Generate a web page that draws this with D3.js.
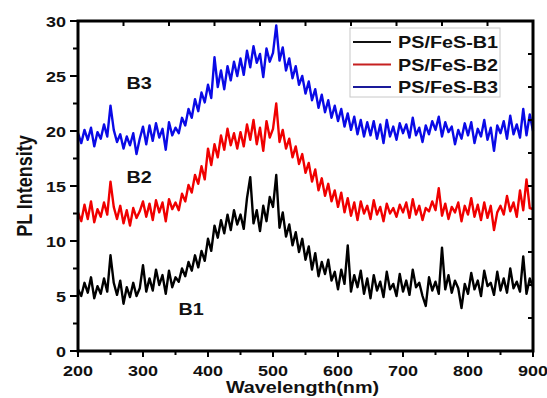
<!DOCTYPE html>
<html>
<head>
<meta charset="utf-8">
<script src="https://cdn.jsdelivr.net/npm/d3@7"></script>
<style>
  body { margin: 0; background: #fff; }
  svg text { font-family: "Liberation Sans", Arial, sans-serif; font-weight: bold; fill: #111; }
</style>
</head>
<body>
<svg id="chart" width="547" height="398"></svg>
<script>
// PL spectra, one value every 5 nm from 200 to 900 nm
const wavelengths = d3.range(200, 901, 5);

const b1 = [
  5.6, 5.0, 6.2, 5.3, 6.7, 4.8, 5.9, 5.2, 6.6, 5.4,
  8.7, 6.2, 5.1, 6.4, 4.3, 5.8, 4.9, 6.2, 5.0, 5.7,
  7.8, 5.4, 6.6, 5.5, 7.4, 6.0, 6.9, 5.2, 7.3, 5.8,
  6.7, 6.3, 7.5, 6.8, 8.1, 7.3, 8.7, 7.6, 9.1, 8.2,
  10.2, 9.1, 11.4, 10.3, 11.9, 10.7, 12.4, 11.0, 12.8, 11.5,
  12.4, 11.1, 13.9, 15.8, 11.6, 12.8, 10.9, 13.2, 11.8, 14.0,
  13.1, 16.0, 11.2, 12.6, 10.4, 11.5, 9.6, 10.8, 9.0, 10.2,
  8.3, 9.5, 7.4, 8.9, 6.8, 8.1, 7.0, 8.3, 6.4, 7.2,
  5.6, 7.4, 6.1, 9.6, 5.4, 6.9, 5.8, 7.3, 5.2, 6.6,
  4.8, 6.9, 5.5, 6.3, 4.9, 7.2, 5.6, 6.1, 5.0, 7.0,
  5.4, 6.4, 5.1, 7.4, 5.8, 6.2, 5.0, 4.1, 6.7, 5.5,
  6.3, 5.2, 9.4, 5.6, 6.9, 5.3, 6.4, 5.7, 3.9, 6.1,
  5.2, 7.1, 5.6, 6.4, 5.0, 7.3, 5.9, 6.2, 5.1, 7.2,
  5.5, 6.6, 5.3, 7.5, 5.7, 6.3, 5.4, 8.6, 5.2, 6.6,
  5.8
];

const b2 = [
  12.6, 11.8, 13.3, 12.0, 13.6, 11.7, 12.9, 12.2, 13.5, 12.4,
  15.4, 13.1, 12.0, 13.2, 11.6, 12.8, 11.4, 13.0, 12.1, 12.7,
  13.6, 12.2, 13.4, 11.9, 13.7, 12.6, 13.5, 11.8, 13.8, 12.9,
  13.5, 12.8, 14.3, 13.6, 15.1, 14.4, 16.0, 15.2, 16.8, 15.6,
  18.4, 16.9, 18.8, 17.6, 19.6, 18.3, 20.2, 18.7, 19.8, 18.4,
  19.9, 18.6, 20.6, 19.2, 21.0, 18.8, 20.3, 18.2, 20.9, 19.4,
  20.2, 22.5, 19.0, 20.1, 18.4, 19.3, 17.6, 18.6, 17.0, 17.9,
  16.2, 17.1, 15.4, 16.5, 14.6, 15.7, 14.1, 15.2, 13.6, 14.6,
  13.1, 14.4, 12.6, 13.9, 12.3, 13.5, 11.9, 13.6, 12.5, 13.2,
  12.0, 13.7, 12.4, 13.1, 11.8, 13.4, 12.5, 13.0, 12.2, 13.3,
  12.6, 13.5, 12.1, 13.8, 12.4, 13.2, 11.9, 13.0, 12.7, 13.6,
  12.8, 14.8, 12.3, 13.4, 12.0, 13.1, 12.6, 13.5, 11.8, 13.2,
  12.4, 13.9, 12.2, 13.3, 11.9, 13.5, 12.1, 13.2, 11.0, 12.6,
  13.2, 12.4, 14.1, 12.7, 13.5, 12.2, 14.6, 12.8, 15.6, 13.0,
  12.9
];

const b3 = [
  19.8, 18.9, 20.1, 19.2, 20.3, 18.6, 19.9, 19.3, 20.6, 19.5,
  22.3, 20.1, 19.0, 19.7, 18.4, 19.5, 18.7, 19.8, 17.9, 19.3,
  20.4, 18.8, 20.5, 19.1, 20.7, 19.4, 20.2, 18.3, 20.8, 19.6,
  20.3, 19.8, 21.2, 20.5, 22.0, 21.2, 22.9, 21.8, 23.5, 22.6,
  24.2, 23.0, 26.7, 24.0, 25.5, 23.8, 25.9, 24.6, 26.3, 25.0,
  26.6, 25.1, 27.3, 25.8, 27.7, 26.2, 27.0, 24.9, 27.5, 26.3,
  27.1, 29.6, 26.4, 27.6, 25.5, 26.6, 24.8, 25.9, 24.2, 25.0,
  23.4, 24.5, 22.8, 23.8, 22.1, 23.3, 21.7, 22.8, 21.2, 22.3,
  20.9, 22.0, 20.4, 21.6, 20.1, 21.3, 19.7, 21.0, 19.5, 20.8,
  19.6, 20.9, 19.3, 20.6, 18.9, 21.0, 19.5, 20.4, 19.2, 20.7,
  19.8, 20.6, 19.4, 21.2, 19.6, 20.3, 19.0, 20.5, 19.7, 20.9,
  20.1, 21.3, 19.5, 20.8, 19.9, 20.4, 18.8, 20.1, 19.3, 20.7,
  19.6, 20.8, 18.9, 20.2, 19.5, 21.0, 19.2, 20.3, 18.2, 20.5,
  19.8, 20.9, 19.3, 21.4, 19.7, 20.6, 19.4, 22.0, 19.6, 21.5,
  20.0
];

const seriesNames = ["PS/FeS-B1", "PS/FeS-B2", "PS/FeS-B3"];
const seriesColors = ["#000000", "#f00000", "#0a0ae6"];
const legendColors = ["#111111", "#c62020", "#1a1a9a"];
const curveLabels = [
  { text: "B1", x: 374, y: 3.3 },
  { text: "B2", x: 294, y: 15.3 },
  { text: "B3", x: 294, y: 23.8 }
];
const xTicks = [200, 300, 400, 500, 600, 700, 800, 900];
const yTicks = [0, 5, 10, 15, 20, 25, 30];

const svg = d3.select("#chart");
const margin = { top: 21, right: 14, bottom: 47, left: 78 };
const width = 547 - margin.left - margin.right;
const height = 398 - margin.top - margin.bottom;
const sx = 1.2; // the figure is stretched sideways

const g = svg.append("g").attr("transform", `translate(${margin.left},${margin.top})`);

const x = d3.scaleLinear().domain([200, 900]).range([0, width]);
const y = d3.scaleLinear().domain([0, 30]).range([height, 0]);

// curves
const data = [b1, b2, b3];
const line = d3.line().x((d, i) => x(wavelengths[i])).y(d => y(d));
g.selectAll(".curve")
  .data(data)
  .enter()
  .append("path")
    .attr("class", "curve")
    .attr("d", d => line(d))
    .attr("fill", "none")
    .attr("stroke", (d, i) => seriesColors[i])
    .attr("stroke-width", 2.4)
    .attr("stroke-linejoin", "round");

// ticks, hand made to mimic Origin style
const tickG = g.append("g").attr("stroke", "#000").attr("stroke-width", 2);
d3.range(200, 901, 50).forEach(v => {
  const len = v % 100 === 0 ? 6 : 4;
  tickG.append("line").attr("x1", x(v)).attr("x2", x(v)).attr("y1", height).attr("y2", height + len);
});
d3.range(0, 30.1, 2.5).forEach(v => {
  const len = v % 5 === 0 ? 8 : 5;
  tickG.append("line").attr("x1", -len).attr("x2", 0).attr("y1", y(v)).attr("y2", y(v));
});
d3.range(200, 901, 70).forEach(v => {
  tickG.append("line").attr("x1", x(v)).attr("x2", x(v)).attr("y1", 0).attr("y2", 5);
});
d3.range(0, 31, 3).forEach(v => {
  tickG.append("line").attr("x1", width - 5).attr("x2", width).attr("y1", y(v)).attr("y2", y(v));
});

// frame
g.append("rect")
  .attr("width", width).attr("height", height)
  .attr("fill", "none").attr("stroke", "#000").attr("stroke-width", 3);

// tick labels
g.selectAll(".xlab")
  .data(xTicks)
  .enter()
  .append("text")
    .attr("class", "xlab")
    .attr("transform", d => `translate(${x(d)},${height + 25}) scale(${sx},1)`)
    .attr("text-anchor", "middle")
    .attr("font-size", 15)
    .text(d => d);

g.selectAll(".ylab")
  .data(yTicks)
  .enter()
  .append("text")
    .attr("class", "ylab")
    .attr("transform", d => `translate(-12,${y(d) + 5.5}) scale(${sx},1)`)
    .attr("text-anchor", "end")
    .attr("font-size", 15)
    .text(d => d);

// axis titles
svg.append("text")
  .attr("transform", `translate(${margin.left + x(550) - 3},393) scale(${sx},1)`)
  .attr("text-anchor", "middle")
  .attr("font-size", 16.5)
  .text("Wavelength(nm)");

svg.append("text")
  .attr("transform", `translate(32,${margin.top + height / 2}) scale(${sx},1) rotate(-90)`)
  .attr("text-anchor", "middle")
  .attr("font-size", 18)
  .text("PL Intensity");

// curve labels
g.selectAll(".blab")
  .data(curveLabels)
  .enter()
  .append("text")
    .attr("class", "blab")
    .attr("transform", d => `translate(${x(d.x)},${y(d.y)}) scale(${sx},1)`)
    .attr("text-anchor", "middle")
    .attr("font-size", 16.5)
    .text(d => d.text);

// legend
const leg = svg.append("g").attr("transform", "translate(350,28)");
leg.append("rect")
  .attr("width", 150).attr("height", 69)
  .attr("fill", "#fff").attr("stroke", "#c8c8c8").attr("stroke-width", 1);
seriesNames.forEach((name, i) => {
  const yy = 14 + i * 22.5;
  leg.append("line")
    .attr("x1", 3).attr("x2", 41).attr("y1", yy).attr("y2", yy)
    .attr("stroke", legendColors[i]).attr("stroke-width", 2);
  leg.append("text")
    .attr("transform", `translate(48,${yy + 6}) scale(${sx},1)`)
    .attr("font-size", 16.5)
    .text(name);
});
</script>
</body>
</html>
